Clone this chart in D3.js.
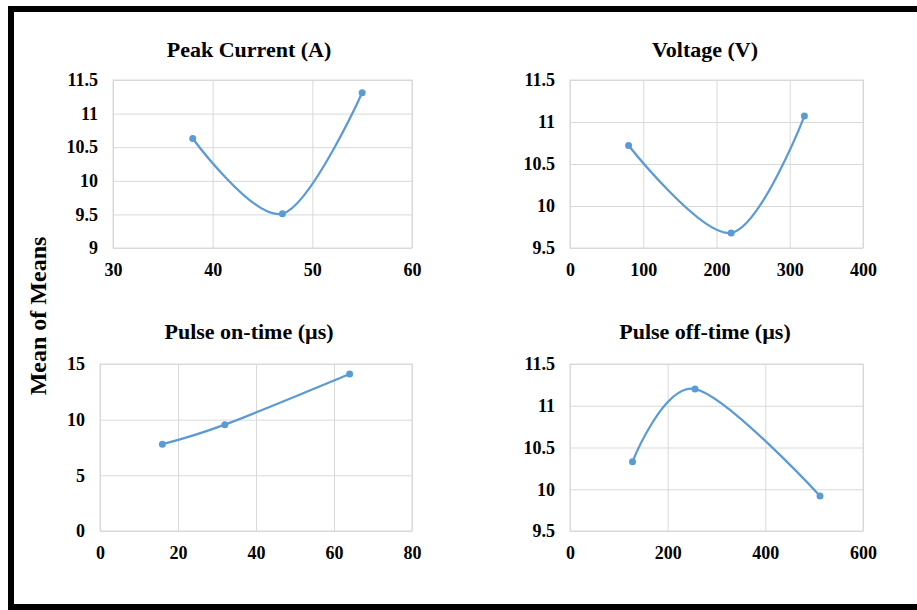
<!DOCTYPE html>
<html>
<head>
<meta charset="utf-8">
<script src="https://d3js.org/d3.v7.min.js"></script>
<style>
  body { margin: 0; background: #fff; }
  svg text { font-family: "Liberation Serif", "Times New Roman", serif; font-weight: bold; fill: #000; }
</style>
</head>
<body>
<svg id="chart" width="917" height="610"></svg>
<script>
"use strict";

// values
const peakCurrent = [38, 47, 55];
const peakMeans = [10.63, 9.51, 11.31];
const voltage = [80, 220, 320];
const voltageMeans = [10.72, 9.68, 11.07];
const pulseOn = [16, 32, 64];
const pulseOnMeans = [7.8, 9.55, 14.1];
const pulseOff = [128, 256, 512];
const pulseOffMeans = [10.33, 11.2, 9.92];

const titles = ["Peak Current (A)", "Voltage (V)", "Pulse on-time (\u00b5s)", "Pulse off-time (\u00b5s)"];
const xTicks = [[30, 40, 50, 60], [0, 100, 200, 300, 400], [0, 20, 40, 60, 80], [0, 200, 400, 600]];
const yTicks = [[9, 9.5, 10, 10.5, 11, 11.5], [9.5, 10, 10.5, 11, 11.5], [0, 5, 10, 15], [9.5, 10, 10.5, 11, 11.5]];
const yLabel = "Mean of Means";

const svg = d3.select("#chart");
const blue = "#5b9bd5";
const grid = "#d9d9d9";

// frame around the figure (no right edge in the original)
svg.append("rect").attr("x", 8).attr("y", 6).attr("width", 909).attr("height", 6).attr("fill", "#000");
svg.append("rect").attr("x", 8).attr("y", 6).attr("width", 6).attr("height", 604).attr("fill", "#000");
svg.append("rect").attr("x", 8).attr("y", 604).attr("width", 909).attr("height", 6).attr("fill", "#000");

// plot boxes for each panel
const boxes = [
  {x0: 113, x1: 412, y0: 80, y1: 248, tx: 249, ty: 57},
  {x0: 570, x1: 863, y0: 80, y1: 248, tx: 705, ty: 57},
  {x0: 100, x1: 412, y0: 364, y1: 531, tx: 249, ty: 339},
  {x0: 570, x1: 863, y0: 364, y1: 531, tx: 705, ty: 339}
];

const series = [
  [peakCurrent, peakMeans],
  [voltage, voltageMeans],
  [pulseOn, pulseOnMeans],
  [pulseOff, pulseOffMeans]
];

function drawPanel(i) {
  const b = boxes[i];
  const xs = xTicks[i], ys = yTicks[i];
  const x = d3.scaleLinear().domain([xs[0], xs[xs.length - 1]]).range([b.x0, b.x1]);
  const y = d3.scaleLinear().domain([ys[0], ys[ys.length - 1]]).range([b.y1, b.y0]);
  const g = svg.append("g");

  // gridlines
  g.append("g")
    .attr("transform", "translate(0," + b.y1 + ")")
    .call(d3.axisBottom(x).tickValues(xs).tickSize(-(b.y1 - b.y0)).tickFormat(""))
    .call(a => a.select(".domain").remove())
    .call(a => a.selectAll("line").attr("stroke", grid));
  g.append("g")
    .attr("transform", "translate(" + b.x0 + ",0)")
    .call(d3.axisLeft(y).tickValues(ys).tickSize(-(b.x1 - b.x0)).tickFormat(""))
    .call(a => a.select(".domain").remove())
    .call(a => a.selectAll("line").attr("stroke", grid));
  g.append("rect")
    .attr("x", b.x0).attr("y", b.y0)
    .attr("width", b.x1 - b.x0).attr("height", b.y1 - b.y0)
    .attr("fill", "none").attr("stroke", grid);

  // tick labels
  g.append("g")
    .attr("transform", "translate(0," + b.y1 + ")")
    .call(d3.axisBottom(x).tickValues(xs).tickSize(0).tickPadding(15))
    .call(a => a.select(".domain").remove())
    .selectAll("text").attr("font-size", "18px");
  g.append("g")
    .attr("transform", "translate(" + b.x0 + ",0)")
    .call(d3.axisLeft(y).tickValues(ys).tickSize(0).tickPadding(15).tickFormat(d => d))
    .call(a => a.select(".domain").remove())
    .selectAll("text").attr("font-size", "18px");

  g.append("text")
    .attr("x", b.tx).attr("y", b.ty)
    .attr("text-anchor", "middle")
    .attr("font-size", "22px")
    .text(titles[i]);

  const pts = series[i][0].map((v, k) => [x(v), y(series[i][1][k])]);
  g.append("path")
    .attr("d", d3.line().curve(d3.curveCardinal.tension(0))(pts))
    .attr("fill", "none")
    .attr("stroke", blue)
    .attr("stroke-width", 2.25);
  g.selectAll("circle.pt")
    .data(pts)
    .enter().append("circle")
    .attr("class", "pt")
    .attr("cx", d => d[0]).attr("cy", d => d[1])
    .attr("r", 3.5)
    .attr("fill", blue);
}

for (let i = 0; i < 4; i++) drawPanel(i);

svg.append("text")
  .attr("transform", "translate(46,316) rotate(-90)")
  .attr("text-anchor", "middle")
  .attr("font-size", "24px")
  .text(yLabel);
</script>
</body>
</html>
